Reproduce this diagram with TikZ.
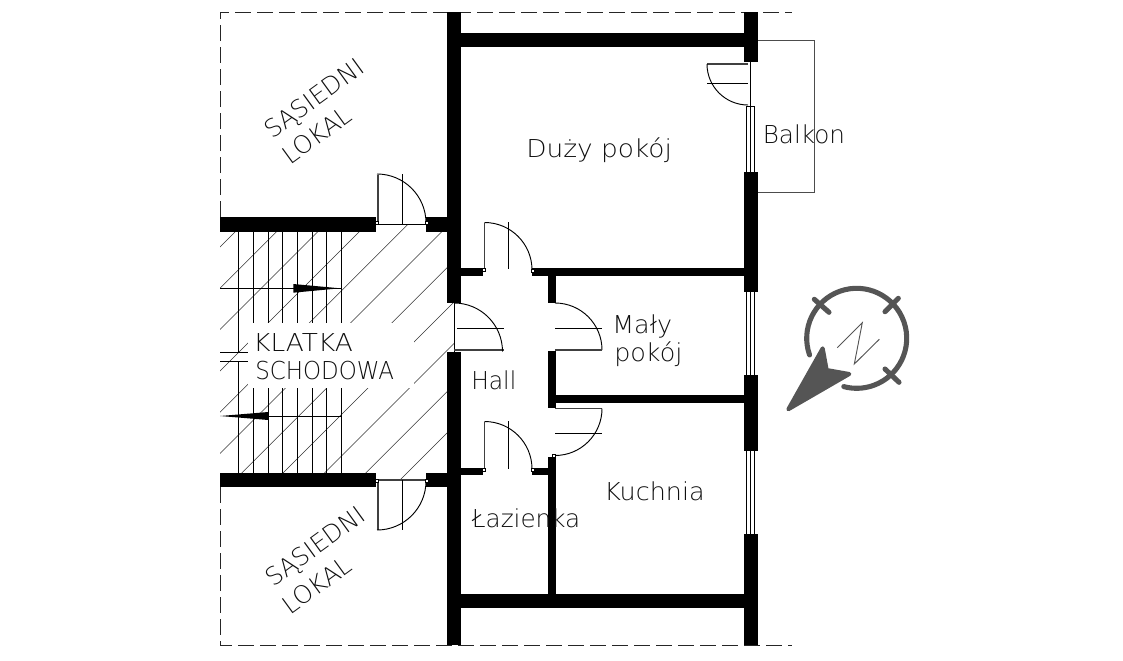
\documentclass[tikz,border=0pt]{standalone}
\usepackage{fontspec}
\setmainfont{DejaVu Sans}[UprightFont=* ExtraLight]
\definecolor{compassgray}{RGB}{85, 85, 85}
\definecolor{inkgray}{RGB}{15, 15, 15}
\tikzset{
  wallblock/.style={fill=black},
  thinline/.style={draw=black, line width=0.7pt},
  hatchline/.style={draw=black!80, line width=0.4pt},
  leafline/.style={draw=black!75, line width=1.2pt},
  borderline/.style={draw=black!85, line width=0.6pt, dash pattern=on 12pt off 4.5pt},
  balconyline/.style={draw=black!70, line width=0.7pt},
  jambmark/.style={draw=black, fill=white, line width=0.4pt},
  roomlabel/.style={anchor=base west, inner sep=0pt, text=inkgray, font=\fontsize{18.5pt}{22pt}\selectfont},
  rotlabel/.style={inner sep=0pt, text=inkgray, rotate=36, font=\fontsize{18.5pt}{22pt}\selectfont},
  compassline/.style={draw=compassgray, line width=3.8pt, line cap=round}
}

\begin{document}
\begin{tikzpicture}[x=0.75pt, y=-0.75pt]
  \useasboundingbox (0,0) rectangle (1123,660);

  % Hatching of the staircase
  \begin{scope}
    \clip (220,224) rectangle (454,480);
    \foreach \c in {0,...,10} {
      \pgfmathsetmacro{\sumxy}{467+41.3*\c}
      \draw[hatchline] (\sumxy-100,100) -- (\sumxy-600,600);
    }
  \end{scope}

  % Treads
  \foreach \tx in {253.3,268,282.7,297.4,312.1,326.8,341.5} {
    \draw[thinline] (\tx,232) -- (\tx,473);
  }
  \draw[thinline] (238.3,232) -- (238.3,352.3);
  \draw[thinline] (238.3,361.7) -- (238.3,473);

  % Gap for the staircase label
  \fill[white] (248,323) rectangle (414,388);
  \draw[thinline] (220,352.3) -- (248,352.3);
  \draw[thinline] (220,361.7) -- (248,361.7);

  % Walking lines
  \draw[thinline] (220,288.3) -- (341.7,288.3);
  \fill[black] (293.3,284) -- (340,288.3) -- (293.3,292.7) -- cycle;
  \draw[thinline] (268.3,416) -- (341.7,416);
  \fill[black] (268.3,412) -- (220,416) -- (268.3,420) -- cycle;

  % Dashed outline
  \draw[borderline] (220,217) -- (220,12) -- (792,12);
  \draw[borderline] (220,487) -- (220,645) -- (792,645);

  % Balcony
  \draw[balconyline] (757,40) -- (814,40) -- (814,192) -- (757,192);

  % Main walls
  \fill[wallblock] (447,12) rectangle (461,302.7);
  \fill[wallblock] (447,352) rectangle (461,645);
  \fill[wallblock] (743.5,12) rectangle (757.5,62.5);
  \fill[wallblock] (743.5,172) rectangle (757.5,292);
  \fill[wallblock] (743.5,375) rectangle (757.5,451);
  \fill[wallblock] (743.5,534) rectangle (757.5,645);
  \fill[wallblock] (461,33) rectangle (743.5,47);
  \fill[wallblock] (461,594) rectangle (743.5,608);

  % Staircase walls
  \fill[wallblock] (220,217) rectangle (376,232);
  \fill[wallblock] (426,217) rectangle (447,232);
  \fill[wallblock] (220,473) rectangle (376,487);
  \fill[wallblock] (426,473) rectangle (447,487);

  % Partitions
  \fill[wallblock] (461,268) rectangle (483,276);
  \fill[wallblock] (532,268) rectangle (743.5,276);
  \fill[wallblock] (548,276) rectangle (555.5,303);
  \fill[wallblock] (548,351) rectangle (555.5,408);
  \fill[wallblock] (555,395) rectangle (743.5,402.5);
  \fill[wallblock] (548,457) rectangle (555.5,594);
  \fill[wallblock] (461,468) rectangle (483,475);
  \fill[wallblock] (532,468) rectangle (548,475);

  % Windows
  \foreach \wx in {746.5,750.5,754.5} {
    \draw[thinline] (\wx,106) -- (\wx,172);
    \draw[thinline] (\wx,292) -- (\wx,375);
    \draw[thinline] (\wx,451) -- (\wx,534);
  }

  % Door to the upper neighbour
  \draw[leafline] (377.8,224) -- (377.8,174.5);
  \draw[thinline] (376,224) -- (426,224);
  \draw[thinline] (377,174) arc[start angle=-90, end angle=0, radius=49];
  \draw[thinline] (402,174) -- (402,224);

  % Door to the lower neighbour
  \draw[leafline] (377.8,480) -- (377.8,530);
  \draw[leafline] (376,480) -- (426,480);
  \draw[thinline] (377,530) arc[start angle=90, end angle=0, radius=49];
  \draw[thinline] (402,480) -- (402,530);

  % Door to the large room
  \draw[leafline] (484.5,270) -- (484.5,222.5);
  \draw[thinline] (484.5,222.5) arc[start angle=-90, end angle=0, radius=47.5];
  \draw[thinline] (508.5,222) -- (508.5,269);

  % Door to the bathroom
  \draw[leafline] (484.5,469) -- (484.5,421.5);
  \draw[thinline] (484.5,421.5) arc[start angle=-90, end angle=0, radius=47.5];
  \draw[thinline] (508.5,421) -- (508.5,469);

  % Door to the small room
  \draw[thinline] (555,303) arc[start angle=-90, end angle=0, radius=47];
  \draw[leafline] (555,350) -- (602,350);
  \draw[thinline] (555,328) -- (602,328);

  % Door to the kitchen
  \draw[leafline] (555,408.5) -- (602,408.5);
  \draw[thinline] (602,408.5) arc[start angle=0, end angle=90, radius=47];
  \draw[thinline] (555,433) -- (602,433);

  % Entrance door
  \draw[thinline] (454,302.7) -- (454,352);
  \draw[leafline] (454,350) -- (504,350);
  \draw[thinline] (454,303) arc[start angle=-90, end angle=0, radius=48.5];
  \draw[thinline] (457,328) -- (504,328);

  % Balcony door
  \draw[thinline] (750.5,62) -- (750.5,106);
  \draw[leafline] (707,64) -- (748,64);
  \draw[thinline] (707,64) arc[start angle=180, end angle=90, radius=41];
  \draw[thinline] (707,83) -- (748,83);
  \draw[thinline] (746.5,106) -- (754.5,106);

  % Jamb marks
  \foreach \jx/\jy in {532.5/271,483.5/270,532.5/470,483.5/470,553.5/456,376.5/223,426.5/223,376.5/481,426.5/481} {
    \draw[jambmark] (\jx-1.5,\jy-1.5) rectangle (\jx+1.5,\jy+1.5);
  }

  % Room labels
  \node[roomlabel, xscale=1.07] (largeroom) at (526,157) {Duży pokój};
  \node[roomlabel] (balcony) at (762.5,143) {Balkon};
  \node[roomlabel, xscale=1.03] (smallrooma) at (612,333) {Mały};
  \node[roomlabel, xscale=1.03] (smallroomb) at (614,361) {pokój};
  \node[roomlabel, xscale=0.95] (hall) at (471,389) {Hall};
  \node[roomlabel, xscale=1.03] (kitchen) at (604,500) {Kuchnia};
  \node[roomlabel] (bathroom) at (471.5,527.5) {Łazienka};
  \node[roomlabel, xscale=1.07] (stairsa) at (253,351.7) {KLATKA};
  \node[roomlabel, xscale=0.93] (stairsb) at (255,379) {SCHODOWA};

  % Neighbouring flats
  \node[rotlabel] (uppera) at (315,100) {SĄSIEDNI};
  \node[rotlabel] (upperb) at (317,135) {LOKAL};
  \node[rotlabel] (lowera) at (316,548) {SĄSIEDNI};
  \node[rotlabel] (lowerb) at (317,585) {LOKAL};

  % Compass
  \draw[compassline] (856.7,338.3) ++(160.6:50) arc[start angle=160.6, end angle=465, radius=50];
  \draw[compassline] (814.3,299.3) -- (829,312.3);
  \draw[compassline] (885,311.7) -- (898.3,298.3);
  \draw[compassline] (885,369) -- (899,382.3);
  \fill[compassgray, draw=compassgray, line width=3pt, line join=round]
    (788.3,409.3) -- (822.7,348.3) -- (826.7,370) -- (849.3,374) -- cycle;
  \draw[draw=compassgray, line width=0.7pt]
    (837.3,347.7) -- (862.3,322.7) -- (854.3,364) -- (879.3,339.3);
\end{tikzpicture}
\end{document}
